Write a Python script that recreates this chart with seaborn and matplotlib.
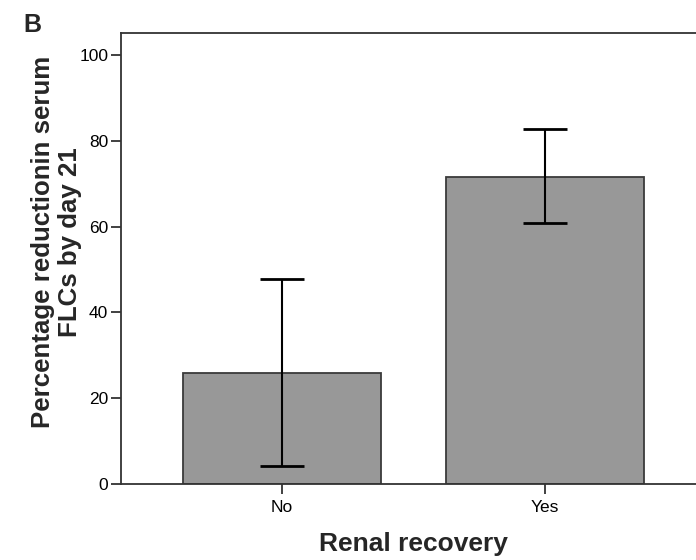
import matplotlib
matplotlib.use("Agg")
import matplotlib.pyplot as plt
import seaborn as sns
import pandas as pd
import numpy as np

categories = ["No", "Yes"]
means = [26.0, 71.5]
ci_low = [4.2, 60.8]
ci_high = [47.9, 82.8]
yticks = [0, 20, 40, 60, 80, 100]

sns.set_theme(style="ticks")
plt.rcParams['font.family'] = ['Liberation Sans', 'DejaVu Sans']

df = pd.DataFrame({"Renal recovery": categories, "value": means})

fig = plt.figure(figsize=(6.96, 5.6), dpi=100)
ax = fig.add_axes([0.1734, 0.1352, 1.0 - 0.1734, 0.9405 - 0.1352])

sns.barplot(data=df, x="Renal recovery", y="value", order=categories,
            color="#989898", saturation=1, width=0.75, errorbar=None,
            edgecolor="#3a3a3a", linewidth=1.3, ax=ax)

lo = np.array(means) - np.array(ci_low)
hi = np.array(ci_high) - np.array(means)
ax.errorbar(x=np.arange(len(categories)), y=means, yerr=[lo, hi],
            fmt="none", ecolor="black", elinewidth=1.5, capsize=16, capthick=2.0)

ax.set_ylim(0, 105)
ax.set_xlim(-0.613, 1.574)
ax.set_yticks(yticks)
ax.set_yticklabels([str(t) for t in yticks])

for s in ["left", "bottom", "top"]:
    ax.spines[s].set_visible(True)
    ax.spines[s].set_color("#333333")
    ax.spines[s].set_linewidth(1.3)
ax.spines["right"].set_visible(False)

ax.tick_params(axis="both", direction="out", length=7, width=1.3, color="#333333",
               labelsize=12.5, labelcolor="black")
ax.tick_params(axis="x", pad=4)
ax.tick_params(axis="y", pad=2)

ax.set_ylabel("Percentage reductionin serum\nFLCs by day 21", fontsize=18.6,
              fontweight="bold", linespacing=1.15)
ax.yaxis.set_label_coords(-0.068, 0.538)
ax.set_xlabel("Renal recovery", fontsize=19, fontweight="bold")
ax.xaxis.set_label_coords(0.508, -0.106)

fig.text(23 / 696, 1 - 32 / 560, "B", fontsize=18, fontweight="bold",
         ha="left", va="baseline")

fig.savefig("out.png", dpi=100)
